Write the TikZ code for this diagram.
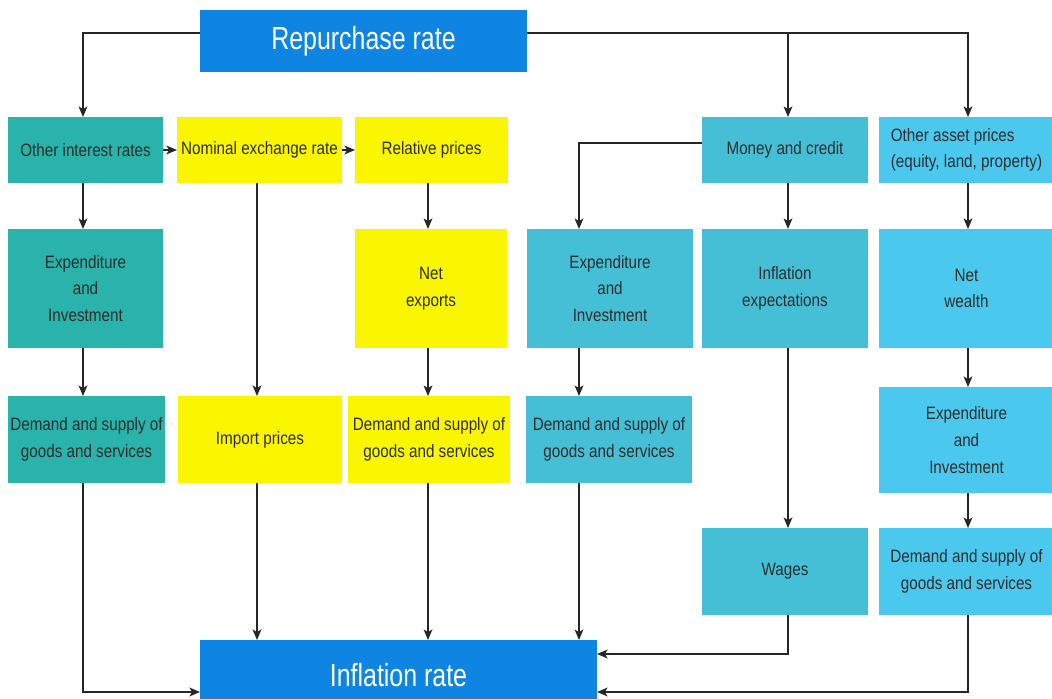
\documentclass[tikz,border=0pt]{standalone}
\usepackage{fontspec}
\setmainfont{Liberation Sans}
\newfontfamily\smallf{Liberation Sans}[FakeStretch=0.85]
\newfontfamily\bigf{Liberation Sans}[FakeStretch=0.78]
\usetikzlibrary{arrows.meta,calc}
\definecolor{repblue}{RGB}{14,133,227}
\definecolor{tealA}{RGB}{42,179,170}
\definecolor{tealB}{RGB}{69,191,214}
\definecolor{skyC}{RGB}{75,200,238}
\definecolor{yel}{RGB}{250,246,0}
\definecolor{txt}{RGB}{45,45,45}
\begin{document}
\begin{tikzpicture}[x=0.02cm,y=-0.02cm,
  sz/.style 2 args={minimum width=#1*0.02cm,minimum height=#2*0.02cm},
  box/.style={inner sep=0pt,outer sep=0pt,align=center,text=txt,
    font=\smallf\fontsize{10.2}{15.2}\selectfont},
  bigbox/.style={inner sep=0pt,outer sep=0pt,fill=repblue,text=white,
    font=\bigf\fontsize{18.2}{20}\selectfont},
  tA/.style={box,fill=tealA},
  tB/.style={box,fill=tealB},
  tC/.style={box,fill=skyC},
  ty/.style={box,fill=yel},
  arr/.style={draw=black!85,line width=0.85pt,-{Stealth[length=6pt,width=5pt,inset=1.5pt]}}
]
\useasboundingbox (0,0) rectangle (1052,699);
% top
\node[bigbox,sz={327}{62}] (rep) at (363.5,41) {Repurchase rate};
% row 1
\node[tA,sz={155}{66}] (oir) at (85.5,150) {Other interest rates};
\node[ty,sz={165}{66}] (ner) at (259.5,150) {Nominal exchange rate};
\node[ty,sz={153}{66}] (relp) at (431.5,150) {Relative prices};
\node[tB,sz={166}{66}] (mc) at (785,150) {Money and credit};
\node[tC,sz={175}{66},align=left] (oap) at (966.5,150) {Other asset prices\\(equity, land, property)};
% row 2
\node[tA,sz={155}{119}] (ei1) at (85.5,288.5) {Expenditure\\and\\Investment};
\node[ty,sz={152}{119}] (nx) at (431,288.5) {Net\\exports};
\node[tB,sz={166}{119}] (ei2) at (610,288.5) {Expenditure\\and\\Investment};
\node[tB,sz={166}{119}] (ie) at (785,288.5) {Inflation\\expectations};
\node[tC,sz={175}{119}] (nw) at (966.5,288.5) {Net\\wealth};
% row 3
\node[tA,sz={157}{87}] (ds1) at (86.5,439.5) {Demand and supply of\\goods and services};
\node[ty,sz={164}{87}] (ip) at (260,439.5) {Import prices};
\node[ty,sz={162}{87}] (ds2) at (429,439.5) {Demand and supply of\\goods and services};
\node[tB,sz={166}{87}] (ds3) at (609,439.5) {Demand and supply of\\goods and services};
\node[tC,sz={175}{106}] (ei3) at (966.5,440) {Expenditure\\and\\Investment};
% row 4
\node[tB,sz={166}{87}] (wg) at (785,571.5) {Wages};
\node[tC,sz={175}{87}] (ds4) at (966.5,571.5) {Demand and supply of\\goods and services};
% bottom
\node[bigbox,sz={397}{70}] (infl) at (398.5,675) {Inflation rate};

% helper coordinates
\coordinate (xa) at (83,0);
\coordinate (xb) at (257,0);
\coordinate (xc) at (428,0);
\coordinate (xd) at (579,0);
\coordinate (xe) at (788,0);
\coordinate (xf) at (968,0);
\coordinate (tl) at ($(rep.west)+(0,-8)$);
\coordinate (tr) at ($(rep.east)+(0,-8)$);

% from repurchase rate
\draw[arr] (tl) -| (oir.north -| xa);
\draw[arr] (tr) -| (oap.north -| xf);
\draw[arr] (tr -| xe) -- (mc.north -| xe);
% row 1 horizontal
\draw[arr] (oir.east) -- (ner.west);
\draw[arr] (ner.east) -- (relp.west);
% left column
\draw[arr] (oir.south -| xa) -- (ei1.north -| xa);
\draw[arr] (ei1.south -| xa) -- (ds1.north -| xa);
\draw[arr] (ds1.south -| xa) |- ($(infl.west)+(0,17)$);
% import prices column
\draw[arr] (ner.south -| xb) -- (ip.north -| xb);
\draw[arr] (ip.south -| xb) -- (infl.north -| xb);
% relative prices column
\draw[arr] (relp.south -| xc) -- (nx.north -| xc);
\draw[arr] (nx.south -| xc) -- (ds2.north -| xc);
\draw[arr] (ds2.south -| xc) -- (infl.north -| xc);
% money and credit
\draw[arr] ($(mc.west)+(0,-7)$) -| (ei2.north -| xd);
\draw[arr] (ei2.south -| xd) -- (ds3.north -| xd);
\draw[arr] (ds3.south -| xd) -- (infl.north -| xd);
\draw[arr] (mc.south -| xe) -- (ie.north -| xe);
\draw[arr] (ie.south -| xe) -- (wg.north -| xe);
\draw[arr] (wg.south -| xe) |- ($(infl.east)+(0,-21)$);
% asset prices
\draw[arr] (oap.south -| xf) -- (nw.north -| xf);
\draw[arr] (nw.south -| xf) -- (ei3.north -| xf);
\draw[arr] (ei3.south -| xf) -- (ds4.north -| xf);
\draw[arr] (ds4.south -| xf) |- ($(infl.east)+(0,17)$);
\end{tikzpicture}
\end{document}
